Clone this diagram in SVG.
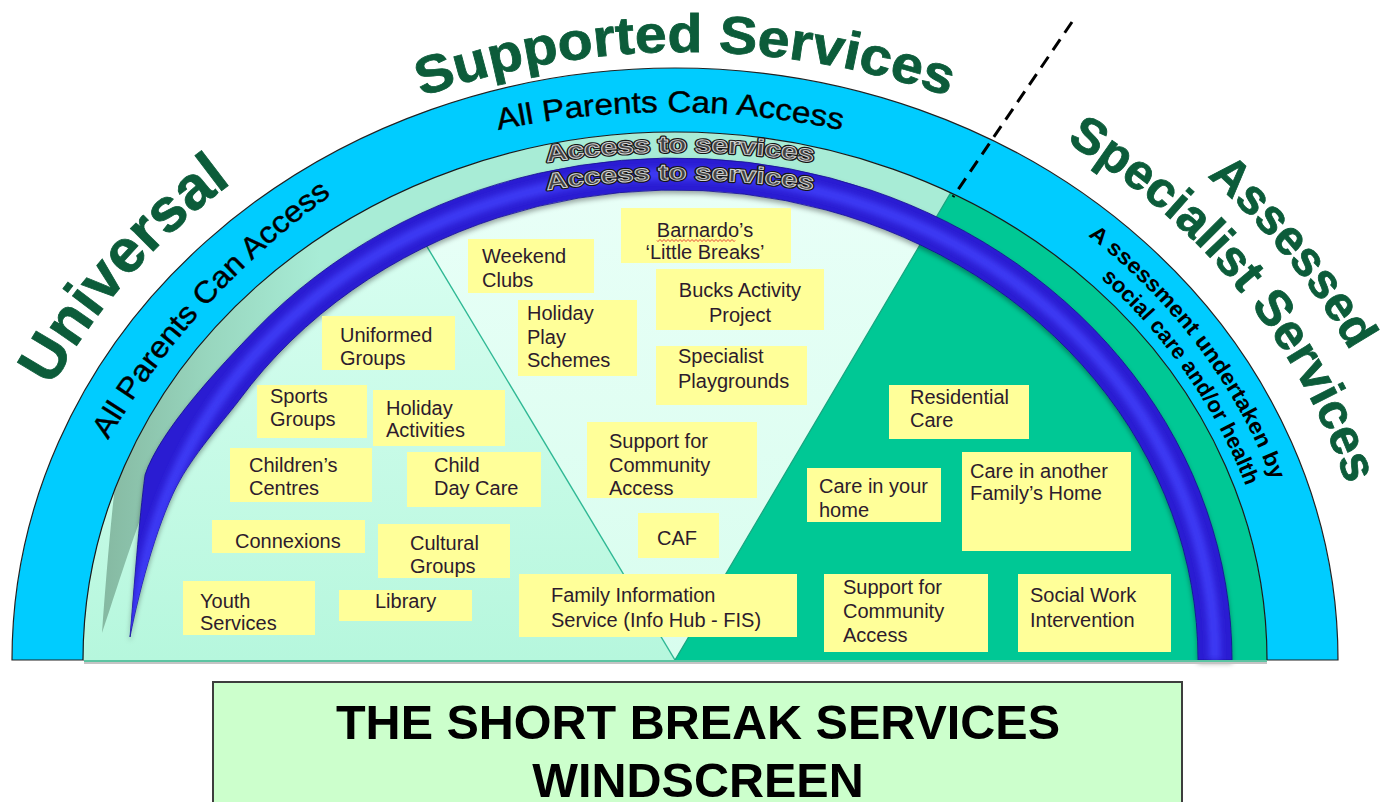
<svg xmlns="http://www.w3.org/2000/svg" width="1384" height="802" viewBox="0 0 1384 802">
<defs>
<style>
.box{fill:#ffff99}
.bt{font-family:"Liberation Sans",Arial,sans-serif;font-size:20px;fill:#2d1b2d}
.big{font-family:"Liberation Sans",Arial,sans-serif;font-weight:bold;fill:#0c5c3a;stroke:#0c5c3a;stroke-width:0.8}
.band{font-family:"Liberation Sans",Arial,sans-serif;fill:#000}
.ats{font-family:"Liberation Sans",Arial,sans-serif;font-weight:bold;font-size:23px}
.title{font-family:"Liberation Sans",Arial,sans-serif;font-weight:bold;font-size:48.5px;fill:#000}
</style>
<linearGradient id="gLeft" x1="0" y1="190" x2="0" y2="660" gradientUnits="userSpaceOnUse">
<stop offset="0" stop-color="#dcfff3"/><stop offset="1" stop-color="#b6f7dd"/>
</linearGradient>
<linearGradient id="gMid" x1="0" y1="190" x2="0" y2="660" gradientUnits="userSpaceOnUse">
<stop offset="0" stop-color="#e8fff7"/><stop offset="1" stop-color="#d8fdee"/>
</linearGradient>
<linearGradient id="gMint" x1="95" y1="0" x2="320" y2="0" gradientUnits="userSpaceOnUse">
<stop offset="0" stop-color="#84b7a0"/><stop offset="0.5" stop-color="#98d6be"/><stop offset="1" stop-color="#a8ecd6"/>
</linearGradient>
<clipPath id="innerClip"><path d="M 83 660 A 592 528 0 0 1 1267 660 Z"/></clipPath>
<clipPath id="purpClip"><path d="M 1232 660 A 557 502 0 0 0 255.3 330 C 220.5 366 160 430 145 475 C 139 520 134 590 130 637 C 140 585 160 515 180 480 C 197 450 227.4 416 239.3 400 A 523 470 0 0 1 1198 660 Z"/></clipPath>
<filter id="sh" x="-5%" y="-5%" width="110%" height="115%"><feDropShadow dx="0" dy="3" stdDeviation="2.5" flood-color="#000" flood-opacity="0.35"/></filter>
<filter id="bl" x="-5%" y="-5%" width="110%" height="110%"><feGaussianBlur stdDeviation="3"/></filter>
<path id="pSup" d="M 365 118.8 A 800 800 0 0 1 1005 118.8"/>
<path id="pUni" d="M 52 387 A 694 620 0 0 1 675 40"/>
<path id="pSpec" d="M 1066.2 142.2 A 699.5 624.6 0 0 1 1367.7 573.1"/>
<path id="pAss" d="M 1207 176.4 A 759 678 0 0 1 1431.1 600.9"/>
<path id="pTop" d="M 480 134.3 A 822 822 0 0 1 860 134.3"/>
<path id="pLeft" d="M 108 440 A 800 800 0 0 1 524.4 93.2"/>
<path id="pA1" d="M 530 164.8 A 885 885 0 0 1 830 164.8"/>
<path id="pA2" d="M 530 192.8 A 885 885 0 0 1 830 192.8"/>
<path id="pR1" d="M 1088 235.7 A 630 562 0 0 1 1302.6 611"/>
<path id="pR2" d="M 1100.7 278.2 A 603 539 0 0 1 1275.7 613"/>
</defs>

<g id="windscreen">
<path d="M 12 660 A 663 592 0 0 1 1338 660 Z" fill="#00ccff" stroke="#222" stroke-width="1.2"/>
<g clip-path="url(#innerClip)">
<rect x="80" y="120" width="1200" height="545" fill="url(#gLeft)"/>
<polygon points="675,660 339,100 1005.4,100" fill="url(#gMid)"/>
<line x1="339" y1="100" x2="675" y2="660" stroke="#2fb894" stroke-width="1.4"/>
<path d="M 1267 660 A 592 528 0 0 0 114.5 490 C 110 530 105 590 102 633 C 110 610 122 570 140 520 L 219 400 A 540 485 0 0 1 1215 660 Z" fill="url(#gMint)"/>
<polygon points="675,660 1029,60 1300,60 1300,665 675,665" fill="#00c895"/>
<line x1="675" y1="660" x2="1029" y2="60" stroke="#17a47e" stroke-width="1.2"/>
</g>
<g filter="url(#sh)">
<path d="M 1232 660 A 557 502 0 0 0 255.3 330 C 220.5 366 160 430 145 475 C 139 520 134 590 130 637 C 140 585 160 515 180 480 C 197 450 227.4 416 239.3 400 A 523 470 0 0 1 1198 660 Z" fill="#2a1fd2" stroke="#16108f" stroke-width="0.8"/>
</g>
<path d="M 135 660 A 540 486 0 0 1 1215 660" fill="none" stroke="#3e3bf4" stroke-width="12" filter="url(#bl)" clip-path="url(#purpClip)"/>
<path d="M 83 660 A 592 528 0 0 1 1267 660" fill="none" stroke="#1a1a1a" stroke-width="1.2"/>
<line x1="84" y1="661" x2="1267" y2="661" stroke="#5cc4a2" stroke-width="2"/>
<line x1="84" y1="663" x2="1267" y2="663" stroke="#c4c4c4" stroke-width="2"/>
</g>

<g id="connectors">
<line x1="1072" y1="22" x2="953" y2="197" stroke="#000" stroke-width="3" stroke-dasharray="13 8"/>
</g>

<g id="arc-labels">
<text class="big" font-size="53"><textPath href="#pSup" startOffset="50%" text-anchor="middle" textLength="537" lengthAdjust="spacingAndGlyphs">Supported Services</textPath></text>
<text class="big" font-size="61"><textPath href="#pUni" textLength="274" lengthAdjust="spacingAndGlyphs">Universal</textPath></text>
<text class="big" font-size="50"><textPath href="#pSpec" textLength="452" lengthAdjust="spacingAndGlyphs">Specialist Services</textPath></text>
<text class="big" font-size="49"><textPath href="#pAss" textLength="227" lengthAdjust="spacingAndGlyphs">Assessed</textPath></text>
<text class="band" font-size="30" stroke="#000" stroke-width="0.4"><textPath href="#pTop" startOffset="50%" text-anchor="middle" textLength="346" lengthAdjust="spacingAndGlyphs">All Parents Can Access</textPath></text>
<text class="band" font-size="30" stroke="#000" stroke-width="0.4"><textPath href="#pLeft" textLength="334" lengthAdjust="spacingAndGlyphs">All Parents Can Access</textPath></text>
<text class="band" font-size="22" font-weight="bold"><textPath href="#pR1" textLength="310" lengthAdjust="spacingAndGlyphs">A ssessment undertaken by</textPath></text>
<text class="band" font-size="22" font-weight="bold"><textPath href="#pR2" textLength="256" lengthAdjust="spacingAndGlyphs">social care and/or health</textPath></text>
<text class="ats" fill="none" stroke="#151515" stroke-width="3.2" stroke-linejoin="round"><textPath href="#pA1" startOffset="50%" text-anchor="middle" textLength="267" lengthAdjust="spacingAndGlyphs">Access to services</textPath></text>
<text class="ats" fill="#444" stroke="#d4d4d4" stroke-width="0.9"><textPath href="#pA1" startOffset="50%" text-anchor="middle" textLength="267" lengthAdjust="spacingAndGlyphs">Access to services</textPath></text>
<text class="ats" fill="none" stroke="#151515" stroke-width="3.2" stroke-linejoin="round"><textPath href="#pA2" startOffset="50%" text-anchor="middle" textLength="267" lengthAdjust="spacingAndGlyphs">Access to services</textPath></text>
<text class="ats" fill="#444" stroke="#d4d4d4" stroke-width="0.9"><textPath href="#pA2" startOffset="50%" text-anchor="middle" textLength="267" lengthAdjust="spacingAndGlyphs">Access to services</textPath></text>
</g>

<g id="uniformed-groups"><rect class="box" x="322" y="316" width="133" height="54"/><text class="bt" x="340" y="342">Uniformed</text><text class="bt" x="340" y="365">Groups</text></g>
<g id="sports-groups"><rect class="box" x="257" y="385" width="110" height="53"/><text class="bt" x="270" y="403">Sports</text><text class="bt" x="270" y="426">Groups</text></g>
<g id="holiday-activities"><rect class="box" x="373" y="390" width="132" height="56"/><text class="bt" x="386" y="415">Holiday</text><text class="bt" x="386" y="437">Activities</text></g>
<g id="childrens-centres"><rect class="box" x="230" y="448" width="142" height="54"/><text class="bt" x="249" y="472">Children’s</text><text class="bt" x="249" y="495">Centres</text></g>
<g id="child-day-care"><rect class="box" x="407" y="452" width="134" height="55"/><text class="bt" x="434" y="472">Child</text><text class="bt" x="434" y="495">Day Care</text></g>
<g id="connexions"><rect class="box" x="212" y="520" width="153" height="33"/><text class="bt" x="235" y="548">Connexions</text></g>
<g id="cultural-groups"><rect class="box" x="378" y="524" width="132" height="54"/><text class="bt" x="410" y="550">Cultural</text><text class="bt" x="410" y="573">Groups</text></g>
<g id="youth-services"><rect class="box" x="183" y="581" width="132" height="54"/><text class="bt" x="200" y="608">Youth</text><text class="bt" x="200" y="630">Services</text></g>
<g id="library"><rect class="box" x="339" y="590" width="133" height="31"/><text class="bt" x="375" y="608">Library</text></g>
<g id="weekend-clubs"><rect class="box" x="468" y="239" width="126" height="54"/><text class="bt" x="482" y="263">Weekend</text><text class="bt" x="482" y="287">Clubs</text></g>
<g id="holiday-play-schemes"><rect class="box" x="518" y="300" width="119" height="76"/><text class="bt" x="527" y="320">Holiday</text><text class="bt" x="527" y="344">Play</text><text class="bt" x="527" y="367">Schemes</text></g>
<g id="barnardos"><rect class="box" x="621" y="208" width="170" height="55"/><text class="bt" x="705" y="237" text-anchor="middle">Barnardo’s</text><text class="bt" x="705" y="259" text-anchor="middle">‘Little Breaks’</text>
<path d="M657 240.5 q1 2 2 0 t2 0 t2 0 t2 0 t2 0 t2 0 t2 0 t2 0 t2 0 t2 0 t2 0 t2 0 t2 0 t2 0 t2 0 t2 0 t2 0 t2 0 t2 0 t2 0 t2 0 t2 0 t2 0 t2 0 t2 0 t2 0 t2 0 t2 0 t2 0 t2 0 t2 0 t2 0 t2 0 t2 0 t2 0 t2 0 t2 0 t2 0 t2 0" fill="none" stroke="#e02020" stroke-width="0.9"/></g>
<g id="bucks-activity-project"><rect class="box" x="656" y="269" width="168" height="61"/><text class="bt" x="740" y="297" text-anchor="middle">Bucks Activity</text><text class="bt" x="740" y="322" text-anchor="middle">Project</text></g>
<g id="specialist-playgrounds"><rect class="box" x="656" y="346" width="151" height="59"/><text class="bt" x="678" y="363">Specialist</text><text class="bt" x="678" y="388">Playgrounds</text></g>
<g id="support-community-mid"><rect class="box" x="587" y="422" width="170" height="76"/><text class="bt" x="609" y="448">Support for</text><text class="bt" x="609" y="472">Community</text><text class="bt" x="609" y="495">Access</text></g>
<g id="caf"><rect class="box" x="638" y="513" width="81" height="45"/><text class="bt" x="657" y="545">CAF</text></g>
<g id="family-information-service"><rect class="box" x="519" y="574" width="278" height="63"/><text class="bt" x="551" y="602">Family Information</text><text class="bt" x="551" y="627">Service (Info Hub - FIS)</text></g>
<g id="residential-care"><rect class="box" x="889" y="385" width="140" height="54"/><text class="bt" x="910" y="404">Residential</text><text class="bt" x="910" y="427">Care</text></g>
<g id="care-in-your-home"><rect class="box" x="807" y="468" width="134" height="54"/><text class="bt" x="819" y="493">Care in your</text><text class="bt" x="819" y="517">home</text></g>
<g id="care-another-family"><rect class="box" x="962" y="452" width="169" height="99"/><text class="bt" x="970" y="478">Care in another</text><text class="bt" x="970" y="500">Family’s Home</text></g>
<g id="support-community-right"><rect class="box" x="824" y="574" width="164" height="78"/><text class="bt" x="843" y="594">Support for</text><text class="bt" x="843" y="618">Community</text><text class="bt" x="843" y="642">Access</text></g>
<g id="social-work-intervention"><rect class="box" x="1018" y="574" width="153" height="78"/><text class="bt" x="1030" y="602">Social Work</text><text class="bt" x="1030" y="627">Intervention</text></g>

<g id="title">
<rect x="213" y="682" width="969" height="130" fill="#ccffcc" stroke="#3d3d3d" stroke-width="2"/>
<text class="title" x="698" y="739" text-anchor="middle">THE SHORT BREAK SERVICES</text>
<text class="title" x="698" y="797" text-anchor="middle">WINDSCREEN</text>
</g>
</svg>
